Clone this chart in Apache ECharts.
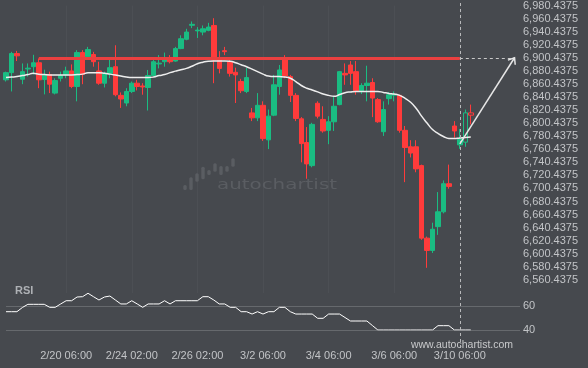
<!DOCTYPE html>
<html><head><meta charset="utf-8">
<script src="https://cdn.jsdelivr.net/npm/echarts@6/dist/echarts.min.js"></script>
<style>html,body{margin:0;padding:0;background:#46494e;}#c{width:588px;height:368px;}</style>
</head><body><div id="c"></div>
<script>
// ---- data ----
const slotCount = 95; // candle slots incl. empty future space
const tickIndex = [11, 23, 35, 47, 59, 71, 83];
const tickLabels = ['2/20 06:00', '2/24 02:00', '2/26 02:00', '3/2 06:00', '3/4 06:00', '3/6 06:00', '3/10 06:00'];
const priceMin = 6540.4375, priceMax = 6980.4375, priceStep = 20;
const rsiMin = 40, rsiMax = 80, rsiStep = 20;
// [open, close, low, high]
const ohlc = [
[6866.7,6877.7,6864.1,6879.2],[6877.7,6906.9,6848.9,6909.5],[6906.9,6903.4,6895.4,6911.0],[6867.6,6879.2,6860.0,6891.8],
[6883.3,6884.5,6871.6,6891.8],[6886.8,6892.8,6874.7,6905.0],[6892.8,6866.7,6853.9,6899.4],[6867.1,6874.7,6844.4,6882.2],
[6874.7,6860.0,6846.4,6879.2],[6846.4,6865.6,6844.4,6869.1],[6869.1,6873.2,6864.1,6879.2],[6874.2,6880.3,6869.1,6886.8],
[6880.3,6856.5,6853.9,6890.3],[6856.5,6908.4,6833.8,6912.1],[6908.4,6875.1,6860.0,6912.1],[6901.9,6913.0,6900.4,6917.1],
[6905.4,6894.4,6886.8,6909.5],[6880.3,6861.5,6859.1,6894.4],[6861.5,6876.6,6855.0,6879.2],[6876.6,6885.3,6869.1,6897.8],
[6886.8,6843.9,6841.4,6919.6],[6842.9,6837.3,6823.7,6847.4],[6831.2,6848.9,6826.2,6853.9],[6848.9,6861.5,6846.4,6864.1],
[6861.5,6856.5,6850.5,6866.7],[6857.3,6855.8,6843.9,6861.5],[6855.0,6873.2,6819.7,6881.8],[6873.2,6894.4,6871.6,6899.4],
[6891.0,6892.2,6884.2,6904.5],[6894.4,6899.4,6886.8,6908.4],[6899.4,6894.4,6891.8,6904.5],[6895.4,6914.5,6894.4,6917.1],
[6914.5,6929.6,6913.6,6934.8],[6928.7,6939.8,6927.2,6944.8],[6950.1,6951.6,6945.8,6956.0],[6941.6,6942.8,6930.7,6947.4],
[6939.8,6944.8,6934.8,6949.9],[6942.4,6947.4,6941.0,6953.9],[6949.9,6896.9,6861.5,6961.0],[6896.9,6884.2,6876.6,6910.6],
[6911.3,6909.8,6904.5,6917.1],[6894.4,6876.6,6871.6,6897.4],[6878.2,6874.2,6831.2,6885.3],[6864.1,6850.0,6846.4,6868.2],
[6848.9,6870.1,6846.4,6884.7],[6816.1,6808.5,6803.5,6823.7],[6808.5,6827.7,6803.5,6846.4],[6827.7,6776.7,6773.2,6833.8],
[6774.8,6811.1,6760.7,6821.2],[6812.6,6859.1,6811.1,6874.2],[6856.5,6881.8,6843.9,6889.4],[6900.4,6872.7,6869.1,6904.5],
[6871.6,6842.9,6832.7,6874.2],[6842.9,6807.6,6803.5,6846.4],[6807.0,6769.1,6740.4,6809.6],[6770.7,6738.0,6715.3,6794.4],
[6735.4,6798.5,6732.8,6800.9],[6830.8,6811.1,6807.6,6833.8],[6806.1,6788.4,6785.8,6826.2],[6789.4,6802.5,6768.2,6811.1],
[6802.5,6826.2,6788.4,6841.4],[6828.8,6879.2,6827.7,6880.3],[6876.6,6874.2,6859.1,6891.8],[6889.4,6876.6,6859.1,6895.4],
[6879.2,6850.0,6843.9,6895.4],[6850.0,6858.0,6844.9,6861.5],[6858.0,6861.5,6833.8,6888.3],[6862.6,6838.8,6809.6,6869.1],
[6836.4,6802.5,6800.9,6838.8],[6787.3,6821.2,6780.8,6833.8],[6837.9,6843.9,6828.8,6847.9],[6843.2,6844.4,6833.8,6848.9],
[6842.9,6789.4,6785.8,6843.9],[6789.4,6763.1,6710.1,6796.0],[6764.2,6754.6,6747.9,6774.3],[6764.2,6730.4,6725.2,6774.3],
[6735.4,6624.4,6621.8,6736.9],[6624.4,6605.6,6579.0,6626.8],[6605.6,6638.0,6601.7,6648.0],[6642.0,6664.7,6629.4,6694.9],
[6664.7,6707.7,6662.3,6712.7],[6707.7,6703.6,6700.1,6736.9],[6796.0,6788.4,6778.2,6803.5],[6767.2,6776.3,6761.1,6791.4],
[6771.3,6816.1,6764.2,6821.2],[6816.1,6812.6,6798.5,6828.8]
];
const hollowFrom = 84; // projected candles drawn hollow
const ma = [
6870.1,6870.9,6871.6,6873.2,6874.7,6876.6,6875.4,6874.7,6874.2,6874.2,
6874.2,6874.2,6874.2,6874.7,6875.4,6877.7,6877.7,6877.7,6876.9,6875.4,
6873.9,6872.4,6870.9,6870.1,6870.1,6870.1,6870.1,6870.9,6873.2,6874.7,
6877.7,6880.0,6882.2,6884.2,6887.5,6891.3,6893.6,6895.1,6895.4,6895.4,
6895.4,6895.1,6892.8,6889.8,6886.8,6883.0,6879.2,6875.4,6872.4,6871.6,
6871.6,6870.9,6869.1,6864.1,6858.0,6853.9,6851.2,6848.2,6844.9,6842.9,
6841.4,6844.1,6847.0,6848.2,6848.9,6848.9,6848.9,6848.9,6848.9,6847.4,
6845.9,6844.9,6842.9,6838.3,6832.3,6823.2,6811.1,6800.5,6790.6,6784.6,
6780.0,6777.0,6776.7,6777.8,6778.5,6779.3];
const rsi = [
55.25,55.25,55.25,58.75,61.4,61.4,61.4,61.4,58.9,58.9,
61.7,64.4,64.4,67.5,67.75,70.6,67.75,65,67.5,68.3,
65,61.7,61.7,64.4,61.7,58.9,61.7,61.7,61.7,64.4,
61.7,64.4,64.4,64.4,64.4,64.4,67.75,67.75,65,61.7,
61.7,58.9,58.9,55.25,55.25,53.3,55.25,53.3,55.25,55.25,
58.9,58.9,55.25,53.3,53.3,53.3,53.3,49.75,49.75,53.3,
53.3,53.3,50.4,47.5,47.5,47.5,47.5,43.75,40,40,
40,40,40,40,40,40,40,40,40,43.6,
43.6,43.6,40,40,40,40];
const resistance = 6900.4375;
const lineStartIdx = 6, lineEndIdx = 83, targetIdx = 93;
const arrowStartPrice = 6768.7;

// ---- chart ----
const categories = Array.from({length: slotCount}, (_, i) => 'c' + i);
const UP = '#1abc82', DOWN = '#ff3b3b';
const fmtPrice = v => {
  const t = priceMin + Math.round((v - priceMin) / priceStep) * priceStep;
  return t.toLocaleString('en-US', {minimumFractionDigits: 4, maximumFractionDigits: 4});
};
const labelColor = '#c2c4c7';
const font = "'Liberation Sans', Arial, sans-serif";

const candleData = ohlc.map((v, i) => i >= hollowFrom
  ? {value: v, itemStyle: {color: 'rgba(0,0,0,0)', color0: 'rgba(0,0,0,0)'}} : v);

const chart = echarts.init(document.getElementById('c'), null, {renderer: 'canvas'});
const option = {
  backgroundColor: '#46494e',
  animation: false,
  grid: [
    {left: 6, right: 68, top: 4, height: 289},
    {left: 6, right: 68, top: 282, height: 48}
  ],
  xAxis: [
    {type: 'category', gridIndex: 0, data: categories, boundaryGap: false,
     axisLine: {show: false}, axisTick: {show: false}, axisLabel: {show: false},
     splitLine: {show: true, interval: (i) => tickIndex.includes(i), lineStyle: {color: 'rgba(255,255,255,0.035)'}}},
    {type: 'category', gridIndex: 1, data: categories, boundaryGap: false,
     axisLine: {show: false}, axisTick: {show: false},
     axisLabel: {interval: (i) => tickIndex.includes(i),
       formatter: (v, i) => { const k = tickIndex.indexOf(i); return k >= 0 ? tickLabels[k] : ''; },
       color: labelColor, fontSize: 11, fontFamily: font, margin: 20},
     splitLine: {show: false}}
  ],
  yAxis: [
    {type: 'value', gridIndex: 0, position: 'right', min: priceMin, max: priceMax, interval: priceStep,
     axisLine: {show: false}, axisTick: {show: false},
     axisLabel: {formatter: fmtPrice, color: labelColor, fontSize: 11, fontFamily: font, margin: 3, showMinLabel: false},
     splitLine: {show: false}},
    {type: 'value', gridIndex: 1, position: 'right', min: rsiMin, max: rsiMax, interval: rsiStep,
     axisLine: {show: false}, axisTick: {show: false},
     axisLabel: {color: labelColor, fontSize: 11, fontFamily: font, margin: 3, showMaxLabel: false},
     splitLine: {show: true, showMaxLine: false, lineStyle: {color: ['#66696d', '#66696d', 'rgba(0,0,0,0)'], width: 1}}}
  ],
  series: [
    {type: 'candlestick', xAxisIndex: 0, yAxisIndex: 0, data: candleData, barWidth: 5, clip: true, z: 2,
     itemStyle: {color: UP, color0: DOWN, borderColor: UP, borderColor0: DOWN, borderWidth: 1}},
    {type: 'line', xAxisIndex: 0, yAxisIndex: 0, data: ma, smooth: true, showSymbol: false, z: 3,
     lineStyle: {color: '#eeeeee', width: 1.5},
     markLine: {silent: true, symbol: 'none', label: {show: false},
       data: [
         [{coord: [lineStartIdx, resistance], lineStyle: {color: '#ea4040', width: 3, type: 'solid'}},
          {coord: [lineEndIdx, resistance]}],
         [{coord: [lineEndIdx, resistance], lineStyle: {color: '#c9c9c9', width: 1, type: [3, 3]}},
          {coord: [targetIdx, resistance]}]
       ]}},
    {type: 'line', xAxisIndex: 1, yAxisIndex: 1, data: rsi, showSymbol: false, z: 3,
     lineStyle: {color: '#ffffff', width: 1}}
  ]
};
chart.setOption(option);

// annotations positioned through the axes
const px = (i, v) => chart.convertToPixel({xAxisIndex: 0, yAxisIndex: 0}, [i, v]);
const p0 = px(lineEndIdx, arrowStartPrice), p1 = px(targetIdx, resistance);
const vx = px(lineEndIdx, resistance)[0];
const dx = p1[0] - p0[0], dy = p1[1] - p0[1], len = Math.hypot(dx, dy);
const bx = -dx / len, by = -dy / len;
const rot = (a) => [bx * Math.cos(a) - by * Math.sin(a), bx * Math.sin(a) + by * Math.cos(a)];
const L = 7, ang = 38 * Math.PI / 180;
const h1 = rot(ang), h2 = rot(-ang);
const wm = '#5a5d62';
const logoBars = [[183.3,185,5],[189.3,177.3,12.7],[195.3,173.3,8.4],[201.3,166.7,12.6],[207.3,170,5],[213.3,163.3,8.4],[219.3,166,9],[225.3,166,5.7],[231.3,158.3,8.4]];
chart.setOption({
  graphic: [
    ...logoBars.map(b => ({type: 'rect', z: 1, silent: true, shape: {x: b[0], y: b[1], width: 3.4, height: b[2], r: 1.5}, style: {fill: wm}})),
    {type: 'text', z: 1, silent: true, x: 277, y: 185, scaleX: 1.42,
     style: {text: 'autochartist', fill: wm, font: "14px 'DejaVu Sans', sans-serif", textAlign: 'center', textVerticalAlign: 'middle'}},
    {type: 'text', z: 10, silent: true, x: 15, y: 291,
     style: {text: 'RSI', fill: '#aeb1b5', font: "bold 11px 'Liberation Sans', Arial, sans-serif", textVerticalAlign: 'middle'}},
    {type: 'text', z: 10, silent: true, x: 462, y: 345,
     style: {text: 'www.autochartist.com', fill: '#c8c9cb', font: "10.5px 'Liberation Sans', Arial, sans-serif", textAlign: 'center', textVerticalAlign: 'middle'}},
    {type: 'line', z: 10, silent: true, shape: {x1: Math.round(vx) + 0.5, y1: 3, x2: Math.round(vx) + 0.5, y2: 351},
     style: {stroke: '#b8b9bb', lineWidth: 1, lineDash: [3, 3]}},
    {type: 'line', z: 10, silent: true, shape: {x1: p0[0], y1: p0[1], x2: p1[0], y2: p1[1]},
     style: {stroke: '#e6e6e6', lineWidth: 1.5}},
    {type: 'polyline', z: 10, silent: true,
     shape: {points: [[p1[0] + h1[0] * L, p1[1] + h1[1] * L], p1, [p1[0] + h2[0] * L, p1[1] + h2[1] * L]]},
     style: {stroke: '#e6e6e6', lineWidth: 1.5, fill: null}}
  ]
});
</script>
</body></html>
